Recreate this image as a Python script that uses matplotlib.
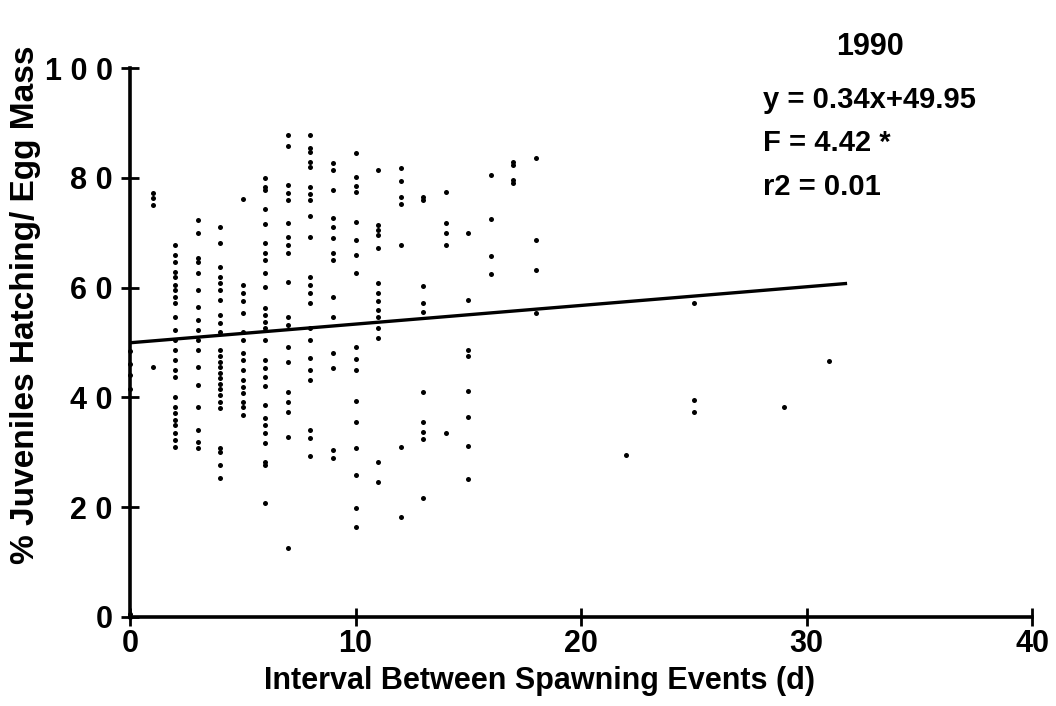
import matplotlib
matplotlib.use('Agg')
import matplotlib.pyplot as plt

plt.rcParams['font.family'] = ['Liberation Sans', 'DejaVu Sans']
plt.rcParams['font.weight'] = 'bold'

# interval between spawning events (d) and % juveniles hatching per egg mass, column by column
interval_d = (
    [0] * 6 + [1] * 4 + [2] * 24 + [3] * 17 + [4] * 25 + [5] * 16 + [6] * 27
    + [7] * 19 + [8] * 22 + [9] * 14 + [10] * 17 + [11] * 14 + [12] * 7
    + [13] * 10 + [14] * 5 + [15] * 8 + [16] * 4 + [17] * 4 + [18] * 4
    + [22] + [25] * 3 + [29] + [31]
)
pct_juv = (
    [48.5, 46, 44, 41.5, 0.5, 0]
    + [77.2, 76.3, 75, 45.5]
    + [67.8, 66, 64.7, 62.8, 62, 60.5, 59.5, 58.3, 57.2, 54.6, 52.3, 50.5,
       48.6, 46.8, 45, 43.7, 40, 38.3, 37.2, 35.9, 35, 33.5, 32.2, 31]
    + [72.3, 69.9, 65.4, 64.7, 62.6, 59.6, 56.5, 54.1, 52.3, 50.5, 48.6, 45.5,
       42.3, 38.3, 34, 31.9, 30.8]
    + [71, 68.1, 63.8, 62, 60.8, 59.5, 57.7, 55, 53.5, 51.9, 48.6, 47.5, 46.5,
       45.5, 44.5, 43.5, 42.5, 41.5, 40.4, 39.2, 38, 30.8, 30, 27.7, 25.3]
    + [76.1, 60.5, 59, 57.5, 55.4, 51.9, 50.5, 48.1, 46.8, 45, 43.2, 41.9,
       40.8, 39.2, 38.3, 36.8]
    + [80, 78.3, 77.8, 74.3, 71.6, 68.1, 66.3, 65, 62.7, 60.1, 56.3, 55, 53.7,
       52.6, 50.5, 46.8, 45.4, 43.8, 42, 38.6, 36.2, 35, 33.5, 31.7, 28.2,
       27.7, 20.8]
    + [87.8, 85.8, 78.7, 77.3, 76, 71.8, 69.2, 67.7, 66.3, 61, 54.6, 53.2,
       49.2, 46.4, 41, 39.2, 37.3, 32.7, 12.6]
    + [87.8, 85.4, 84.7, 82.9, 82, 78.3, 77, 76, 73, 69.2, 62, 60.5, 59, 57.2,
       52.6, 50.5, 47.2, 45, 43.2, 34, 32.6, 29.3]
    + [82.7, 81.4, 77.8, 72.7, 71, 69, 66.3, 65, 58.3, 54.6, 48.1, 45.4, 30.4, 29]
    + [84.5, 80.1, 78.5, 77.4, 72, 68.7, 66, 62.7, 49.2, 47, 45, 39.4, 35.5,
       30.8, 25.9, 19.9, 16.4]
    + [81.4, 71.4, 70.5, 69.6, 67.2, 60.8, 59, 57.5, 56, 54.6, 52.6, 50.8, 28.2, 24.6]
    + [81.8, 79.4, 76.5, 75.2, 67.8, 31, 18.2]
    + [76.5, 76, 60.3, 57.2, 55.6, 41, 35.5, 33.7, 32.4, 21.7]
    + [77.4, 71.8, 70, 67.8, 33.5]
    + [69.9, 57.7, 48.6, 47.5, 41.2, 36.4, 31.2, 25.1]
    + [80.5, 72.5, 65.8, 62.5]
    + [82.9, 82.4, 79.6, 79]
    + [83.6, 68.7, 63.2, 55.4]
    + [29.5]
    + [57.2, 39.5, 37.3]
    + [38.3]
    + [46.6]
)

# regression y = 0.34x + 49.95
slope = 0.34
intercept = 49.95
fit_x = [0, 31.8]

x_ticks = [0, 10, 20, 30, 40]
y_ticks = [0, 20, 40, 60, 80, 100]

fig = plt.figure(figsize=(10.56, 7.06), dpi=100)
ax = fig.add_axes([130 / 1056, 89 / 706, 902 / 1056, 549 / 706])

ax.plot(interval_d, pct_juv, 'o', color='black', ms=3.6, mew=0, clip_on=False)
ax.plot(fit_x, [intercept + slope * v for v in fit_x], color='black', lw=2.4,
        solid_capstyle='butt')

ax.set_xlim(0, 40)
ax.set_ylim(0, 100)
ax.spines['top'].set_visible(False)
ax.spines['right'].set_visible(False)
ax.spines['left'].set_linewidth(2.6)
ax.spines['bottom'].set_linewidth(2.6)

ax.set_xticks(x_ticks)
ax.set_xticklabels([str(v) for v in x_ticks])
ax.set_yticks(y_ticks)
ax.set_yticklabels([' '.join(str(v)) for v in y_ticks])
ax.tick_params(axis='both', direction='inout', length=13, width=2,
               labelsize=22)
ax.tick_params(axis='y', pad=6)
ax.tick_params(axis='x', pad=2)
for lab in ax.get_xticklabels() + ax.get_yticklabels():
    lab.set_fontweight('bold')

fig.text(540 / 1056, 1 - 681 / 706, 'Interval Between Spawning Events (d)',
         ha='center', va='center', fontsize=22, fontweight='bold')
fig.text(26 / 1056, 1 - 305 / 706, '% Juveniles Hatching/ Egg Mass',
         ha='center', va='center', rotation=90, fontsize=24, fontweight='bold')

fig.text(870 / 1056, 1 - 47 / 706, '1990', ha='center', va='center',
         fontsize=22, fontweight='bold')
fig.text(763 / 1056, 1 - 100 / 706, 'y = 0.34x+49.95', ha='left', va='center',
         fontsize=21, fontweight='bold')
fig.text(763 / 1056, 1 - 143 / 706, 'F = 4.42 *', ha='left', va='center',
         fontsize=21, fontweight='bold')
fig.text(763 / 1056, 1 - 187 / 706, 'r2 = 0.01', ha='left', va='center',
         fontsize=21, fontweight='bold')

fig.savefig('out.png', dpi=100, facecolor='white')
